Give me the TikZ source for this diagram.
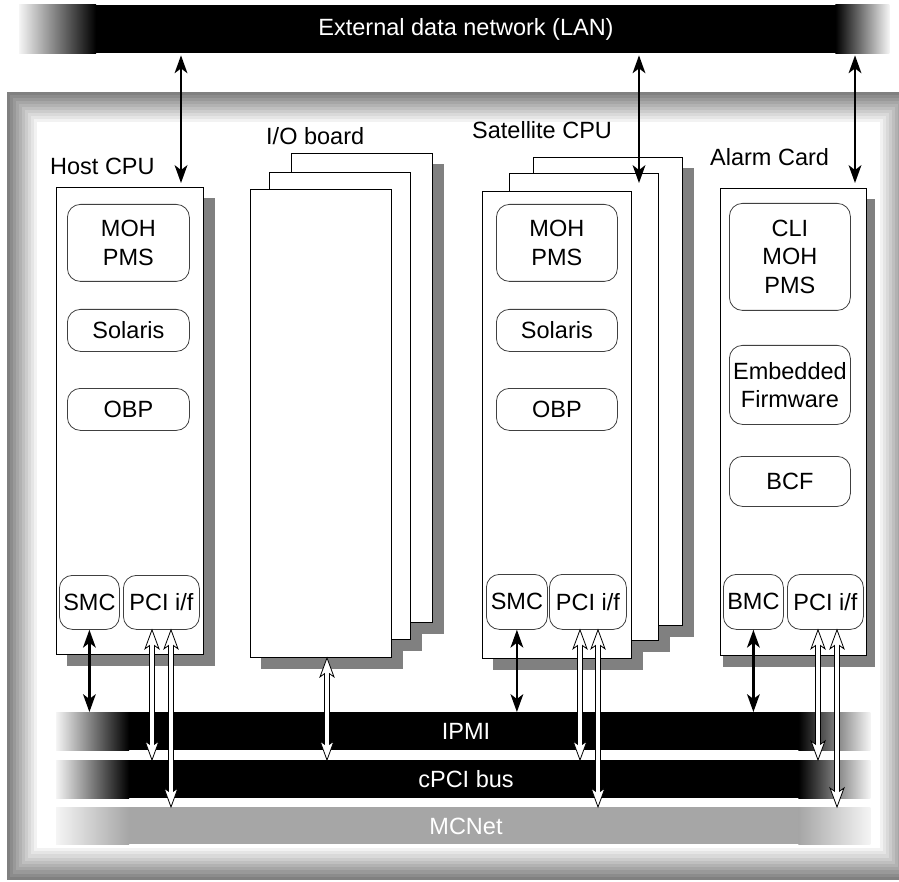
\documentclass[tikz,border=0pt]{standalone}
\usepackage{fontspec}
\setmainfont{Liberation Sans}
\usetikzlibrary{calc}
\pgfdeclarelayer{bg}
\pgfdeclarelayer{shade}
\pgfsetlayers{bg,shade,main}

\tikzset{
  card/.style={draw=black, line width=0.9pt, fill=white, anchor=north west, inner sep=0pt},
  inbox/.style={draw=black!75, line width=0.8pt, rounded corners=13pt, fill=white,
                anchor=north west, inner sep=0pt, align=center},
  lbl/.style={anchor=base west, inner sep=0pt},
  busbar/.style={anchor=north west, inner sep=0pt, fill=black},
  bartext/.style={text=white, inner sep=0pt},
  cardshadow/.style={fill=black!50},
  bkline/.style={line width=2.4pt},
  holline/.style={line width=0.8pt, fill=white, line join=miter},
}

% solid two-way vertical link from #1 (upper end) to #2 (lower end)
\newcommand\bkarrow[2]{%
  \draw[bkline] ($(#1)+(0,12)$) -- ($(#2)+(0,-12)$);
  \fill (#1) -- ++(-6.5,18) -- ++(6.5,-5) -- ++(6.5,5) -- cycle;
  \fill (#2) -- ++(-6.5,-18) -- ++(6.5,5) -- ++(6.5,-5) -- cycle;}

% hollow two-way vertical link from #1 (upper end) to #2 (lower end)
\newcommand\holarrow[2]{%
  \filldraw[holline] ($(#1)+(-2.2,14)$) rectangle ($(#2)+(2.2,-14)$);
  \filldraw[holline] (#1) -- ++(-7,19) -- ++(7,-5) -- ++(7,5) -- cycle;
  \filldraw[holline] (#2) -- ++(-7,-19) -- ++(7,5) -- ++(7,-5) -- cycle;
  \fill[white] ($(#1)+(-1.7,13)$) rectangle ($(#2)+(1.7,-13)$);}

\begin{document}
\begin{tikzpicture}[x=1pt, y=-1pt, font=\fontsize{23.5}{28.5}\selectfont]
\useasboundingbox (0,0) rectangle (899,882);

% chassis frame with a graded bevel
\begin{pgfonlayer}{bg}
\begin{scope}
  \clip (0,0) rectangle (899,882);
  \foreach \i in {0,...,9}{
    \pgfmathtruncatemacro\g{50-5*\i}
    \fill[black!\g] (7+3*\i,92+3*\i) rectangle (910-3*\i,880-3.2*\i);
  }
  \fill[white] (37,122) rectangle (880,848);
\end{scope}
\end{pgfonlayer}

% external LAN
\node[busbar, minimum width=870pt, minimum height=48pt] (lan) at (19,5) {};
\shade[left color=black!4, right color=black] (lan.north west) rectangle ($(lan.south west)+(77,0)$);
\shade[left color=black, right color=black!4] ($(lan.north east)+(-54,0)$) rectangle (lan.south east);
\node[bartext] at (466,29) {External data network (LAN)};

% backplane buses
\node[busbar, minimum width=814pt, minimum height=38pt] (ipmi) at (56,712) {};
\node[busbar, minimum width=814pt, minimum height=38pt] (cpci) at (56,760) {};
\node[busbar, fill=black!35, minimum width=814pt, minimum height=37pt] (mcnet) at (56,807) {};
\foreach \b in {ipmi,cpci}{
  \shade[left color=black!4, right color=black] (\b.north west) rectangle ($(\b.south west)+(73,0)$);
  \shade[left color=black, right color=black!4] ($(\b.north east)+(-72,0)$) rectangle (\b.south east);
}
\shade[left color=black!4, right color=black!35] (mcnet.north west) rectangle ($(mcnet.south west)+(73,0)$);
\shade[left color=black!35, right color=black!4] ($(mcnet.north east)+(-72,0)$) rectangle (mcnet.south east);
\node[bartext] at (466,731) {IPMI};
\node[bartext] at (466,779) {cPCI bus};
\node[bartext] at (466,826) {MCNet};

% host CPU
\node[card, minimum width=147pt, minimum height=467pt] (host) at (56,187) {};
\node[lbl] at (50,175) {Host CPU};
\node[inbox, minimum width=122pt, minimum height=77pt] (hmoh) at (67,204) {MOH\\PMS};
\node[inbox, minimum width=122pt, minimum height=42pt] (hsol) at (67,309) {Solaris};
\node[inbox, minimum width=122pt, minimum height=42pt] (hobp) at (67,388) {OBP};
\node[inbox, minimum width=60pt, minimum height=54pt] (hsmc) at (59,575) {SMC};
\node[inbox, minimum width=76pt, minimum height=54pt] (hpci) at (123,575) {PCI i/f};

% I/O boards (stack of three)
\node[card, minimum width=141pt, minimum height=469pt] (io3) at (291,153) {};
\node[card, minimum width=141pt, minimum height=467pt] (io2) at (269,172) {};
\node[card, minimum width=141pt, minimum height=468pt] (io1) at (250,189) {};
\node[lbl] at (266,145) {I/O board};

% satellite CPUs (stack of three)
\node[card, minimum width=149pt, minimum height=468pt] (sat3) at (533,157) {};
\node[card, minimum width=149pt, minimum height=467pt] (sat2) at (509,173) {};
\node[card, minimum width=149pt, minimum height=467pt] (sat1) at (482,191) {};
\node[lbl] at (472,139) {Satellite CPU};
\node[inbox, minimum width=121pt, minimum height=77pt] (smoh) at (496,204) {MOH\\PMS};
\node[inbox, minimum width=121pt, minimum height=42pt] (ssol) at (496,309) {Solaris};
\node[inbox, minimum width=121pt, minimum height=42pt] (sobp) at (496,388) {OBP};
\node[inbox, minimum width=61pt, minimum height=55pt] (ssmc) at (486,574) {SMC};
\node[inbox, minimum width=77pt, minimum height=55pt] (spci) at (549,574) {PCI i/f};

% alarm card
\node[card, minimum width=146pt, minimum height=467pt] (alarm) at (720,188) {};
\node[lbl] at (710,166) {Alarm Card};
\node[inbox, minimum width=121pt, minimum height=107pt] (acli) at (729,203) {CLI\\MOH\\PMS};
\node[inbox, minimum width=121pt, minimum height=79pt] (aemb) at (729,345) {Embedded\\Firmware};
\node[inbox, minimum width=121pt, minimum height=50pt] (abcf) at (729,456) {BCF};
\node[inbox, minimum width=60pt, minimum height=55pt] (abmc) at (723,574) {BMC};
\node[inbox, minimum width=76pt, minimum height=55pt] (apci) at (787,574) {PCI i/f};

% card shadows, under every card of a stack
\begin{pgfonlayer}{shade}
  \foreach \n in {host,io1,io2,io3,sat1,sat2,sat3}
    \fill[cardshadow] ($(\n.north west)+(11,11)$) rectangle ($(\n.south east)+(11,11)$);
  \fill[cardshadow] ($(alarm.north west)+(3,11)$) rectangle ($(alarm.south east)+(8,11)$);
\end{pgfonlayer}

% LAN links
\coordinate (hup) at (181,183);
\coordinate (sup) at (639,183);
\coordinate (aup) at (855,183);
\foreach \c in {hup,sup,aup}{
  \coordinate (top-\c) at ($(lan.south -| \c)+(0,2)$);
  \bkarrow{top-\c}{\c}
}

% IPMI links
\bkarrow{hsmc.south}{ipmi.north -| hsmc.south}
\bkarrow{ssmc.south}{ipmi.north -| ssmc.south}
\bkarrow{abmc.south}{ipmi.north -| abmc.south}

% PCI links to cPCI bus and MCNet
\coordinate (hp1) at (152,0);
\coordinate (hp2) at (171,0);
\coordinate (iop) at (327,0);
\coordinate (sp1) at (580,0);
\coordinate (sp2) at (598,0);
\coordinate (ap1) at (818,0);
\coordinate (ap2) at (837,0);
\holarrow{hpci.south -| hp1}{cpci.north -| hp1}
\holarrow{hpci.south -| hp2}{mcnet.north -| hp2}
\holarrow{io1.south -| iop}{cpci.north -| iop}
\holarrow{spci.south -| sp1}{cpci.north -| sp1}
\holarrow{spci.south -| sp2}{mcnet.north -| sp2}
\holarrow{apci.south -| ap1}{cpci.north -| ap1}
\holarrow{apci.south -| ap2}{mcnet.north -| ap2}
\end{tikzpicture}
\end{document}
